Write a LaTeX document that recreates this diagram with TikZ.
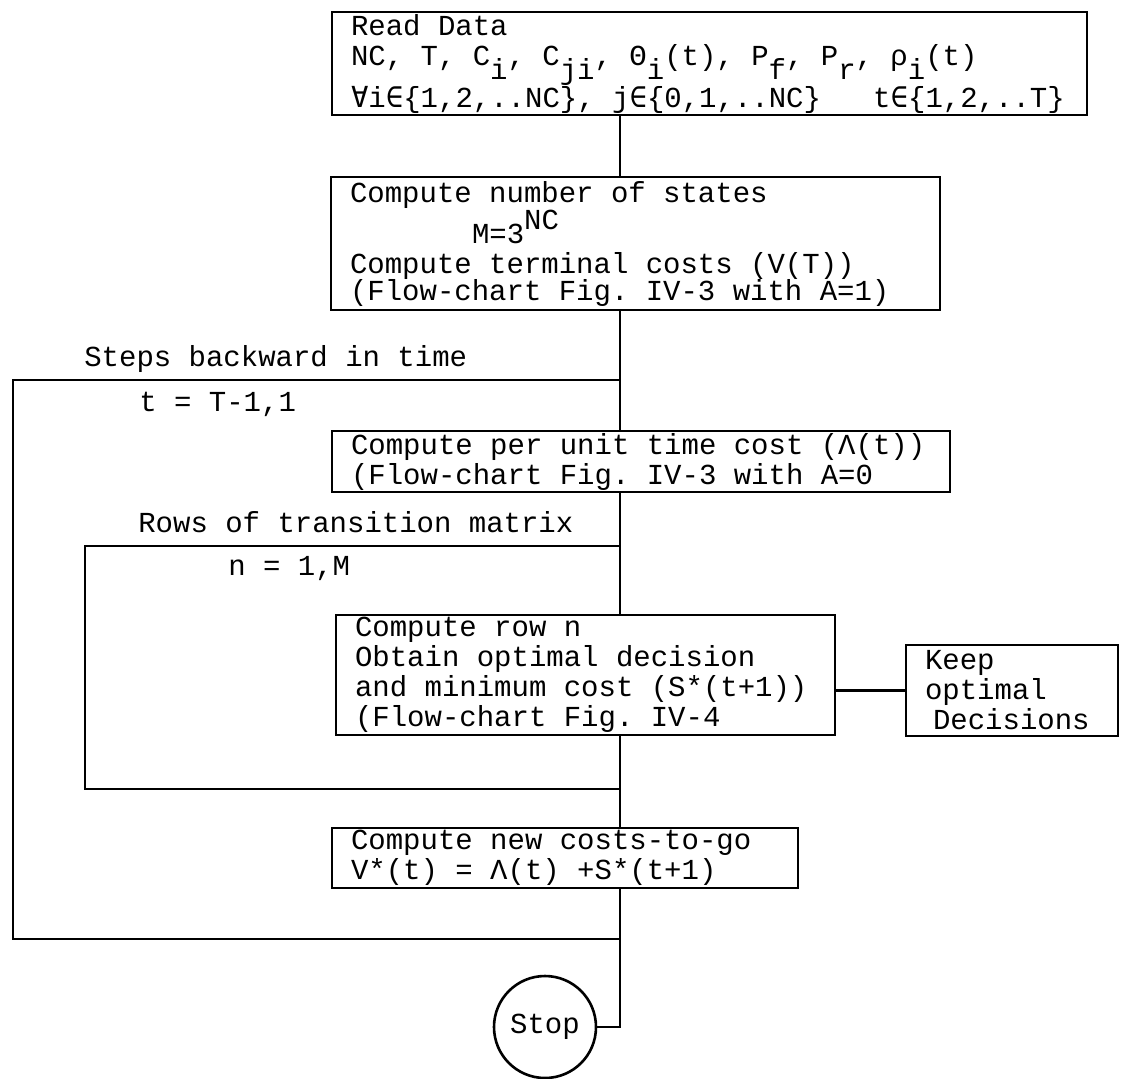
\documentclass[tikz,border=0pt]{standalone}
\usepackage{fontspec}
\setmonofont{Liberation Mono}
\newfontfamily\symfnt{DejaVu Sans Mono}
\usepackage{tikz}
\usetikzlibrary{positioning}
\newcommand\tw{\ttfamily\fontsize{14.5}{15}\selectfont}
\newcommand\lo[1]{\raisebox{-0.5em}[0pt][0pt]{#1}}
\newcommand\hi[1]{\raisebox{0.45em}[0pt][0pt]{#1}}

\begin{document}
\begin{tikzpicture}[x=0.5pt,y=-0.5pt,line width=1.3pt,
    procbox/.style={draw,rectangle,inner xsep=9.5pt,inner ysep=0pt,align=flush left,font=\tw},
    lbl/.style={inner sep=0pt,anchor=base west,font=\tw}]
  \useasboundingbox (0,0) rectangle (1131,1078);
  % boxes
  \node[procbox,text width=358.5pt,minimum height=51.5pt] (readdata) at (709.5,63.5)
    {Read Data\\
     NC, T, C\lo{i}, C\lo{ji}, Θ\lo{i}(t), P\lo{f}, P\lo{r}, ρ\lo{i}(t)\\[6pt]
     {\symfnt ∀}i{\symfnt ∈}\{1,2,..NC\}, j{\symfnt ∈}\{0,1,..NC\}\ \ \ t{\symfnt ∈}\{1,2,..T\}};
  \node[procbox,text width=285.5pt,minimum height=66.5pt] (states) at (635.5,243.5)
    {Compute number of states\\[5.5pt]
     \hspace*{61pt}M=3\hi{NC}\\
     Compute terminal costs (V(T))\\[-1.5pt]
     (Flow-chart Fig. IV-3 with A=1)};
  \node[procbox,text width=290pt,minimum height=30.5pt] (unitcost) at (641,461.5)
    {Compute per unit time cost (Λ(t))\\
     (Flow-chart Fig. IV-3 with A=0};
  \node[procbox,text width=230.5pt,minimum height=60pt] (rowbox) at (585.5,675)
    {Compute row n\\
     Obtain optimal decision\\
     and minimum cost (S*(t+1))\\
     (Flow-chart Fig. IV-4};
  \node[procbox,text width=87pt,minimum height=45.5pt] (keep) at (1012,690.5)
    {Keep\\optimal\\\hspace*{4pt}Decisions};
  \node[procbox,text width=214pt,minimum height=30pt] (newcost) at (565,858)
    {Compute new costs-to-go\\
     V*(t) = Λ(t) +S*(t+1)};
  \node[draw,circle,minimum size=51pt,inner sep=0pt,font=\tw] (stop) at (545,1027) {Stop};
  % loop labels
  \node[lbl] (steps) at (83,366) {Steps backward in time};
  \node[lbl] (tloop) at (138,411) {t = T-1,1};
  \node[lbl] (rows) at (137,532) {Rows of transition matrix};
  \node[lbl] (nloop) at (227,575) {n = 1,M};
  % spine and loops
  \coordinate (spine) at (620,0);
  \coordinate (otop) at (620,380);
  \coordinate (obot) at (620,939);
  \coordinate (oleft) at (13,0);
  \coordinate (itop) at (620,546);
  \coordinate (ibot) at (620,789);
  \coordinate (ileft) at (85,0);
  \draw (spine |- readdata.south) -- (spine |- states.north);
  \draw (spine |- states.south) -- (spine |- unitcost.north);
  \draw (spine |- unitcost.south) -- (spine |- rowbox.north);
  \draw (spine |- rowbox.south) -- (spine |- newcost.north);
  \draw (spine |- newcost.south) |- (stop.east);
  \draw (otop) -| (oleft |- obot) -- (obot);
  \draw (itop) -| (ileft |- ibot) -- (ibot);
  \draw (keep.west) -- (keep.west -| rowbox.east);
\end{tikzpicture}
\end{document}
